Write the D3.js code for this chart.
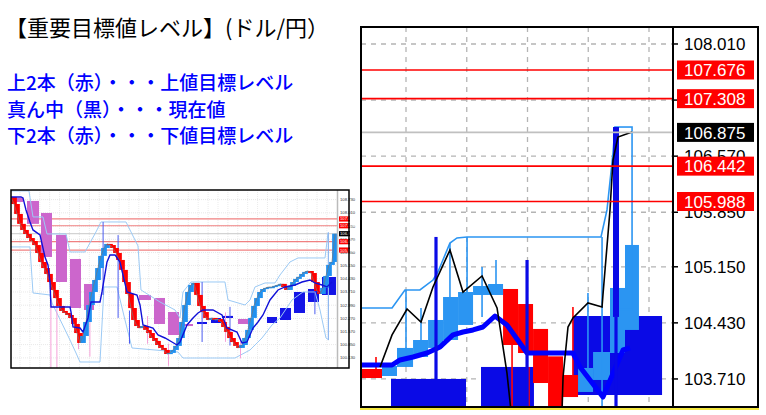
<!DOCTYPE html>
<html><head><meta charset="utf-8">
<script src="https://cdn.jsdelivr.net/npm/d3@7"></script>
<style>body{margin:0;background:#fff}svg{display:block}</style>
</head><body>
<svg id="c" width="766" height="415"></svg>
<script>
// ================= DATA =================
const titleText = "【重要目標値レベル】(ドル/円）";
const legendLines = ["上2本（赤）・・・上値目標レベル", "真ん中（黒）・・・現在値", "下2本（赤）・・・下値目標レベル"];

const targetLevels = [107.676, 107.308, 106.442, 105.988];
const currentPrice = 106.875;
const bigGridValues = [108.010, 107.290, 106.570, 105.850, 105.150, 104.430, 103.710];
const bigTickLabels = [108.010, 106.570, 105.850, 105.150, 104.430, 103.710];
const smallTicks = [108.730, 108.010, 107.290, 106.570, 105.850, 105.150, 104.430, 103.710, 102.990, 102.270, 101.570, 100.850, 100.130];

// ---- big (zoomed) chart ----
const bigGridTimes = [3.0, 7.05, 11.1, 15.15, 19.2];
const bigDarkBoxes = [[2.0, 7.0, 103.71, 103.0], [8.0, 11.53, 103.864, 103.0], [14.13, 20.07, 104.518, 103.504]];
const bigRedCandles = [[-0.2, 1.4, 103.838, 103.722], [9.47, 10.47, 104.865, 104.146], [10.47, 11.47, 104.672, 104.043],
  [11.47, 12.47, 104.352, 103.658], [12.47, 13.47, 104.0, 103.30], [13.27, 14.47, 103.761, 103.478]];
const bigBlueCandles = [[1.4, 2.4, 103.748, 103.877], [2.4, 3.47, 103.864, 104.108], [3.47, 4.47, 103.992, 104.210],
  [4.47, 5.47, 104.108, 104.467], [5.47, 6.47, 104.210, 104.762], [6.47, 7.47, 104.403, 104.826],
  [7.47, 8.47, 104.788, 104.903], [8.47, 9.47, 104.788, 104.929], [14.47, 15.47, 103.543, 103.851],
  [15.47, 16.6, 103.697, 104.056], [16.6, 17.6, 104.043, 104.878], [17.6, 18.53, 104.339, 105.430]];
const bigOutlineCandle = [16.93, 18.07, 106.944, 104.6];
const bigSpikeBody = [16.8, 17.2, 106.944, 104.506];
const bigDarkWicks = [[5.0, 105.533, 103.30], [11.07, 105.237, 103.30], [17.0, 104.506, 103.30]];
const bigLightWicks = [[3.0, 104.852, 103.864], [4.0, 104.621, 104.21], [5.93, 105.455, 104.762], [7.07, 105.533, 104.826],
  [8.07, 105.147, 104.506], [9.0, 105.237, 104.865], [15.13, 104.814, 103.825], [16.07, 105.533, 103.30]];
const bigRedWicks = [[1.0, 103.992, 103.838], [10.07, 104.21, 103.30], [11.2, 103.864, 103.30], [14.13, 104.634, 103.735]];
const bigPriceSeg1 = [[1.27, 103.864], [2.07, 104.275], [3.07, 104.608], [4.0, 104.441], [4.8, 104.891], [5.93, 105.366],
  [6.8, 104.826], [8.07, 105.032], [9.07, 104.621], [9.73, 103.787], [10.0, 103.30]];
const bigPriceSeg2 = [[13.4, 103.30], [13.47, 103.735], [13.8, 104.377], [14.13, 104.493], [15.13, 104.685], [16.07, 104.634],
  [16.13, 104.788], [16.6, 105.879], [16.8, 106.521], [17.13, 106.816], [18.07, 106.880]];
const bigMA = [[0, 103.889], [2.07, 103.889], [2.6, 103.954], [3.47, 103.992], [4.4, 104.043], [5.27, 104.12], [6.13, 104.275],
  [6.8, 104.313], [7.47, 104.339], [8.13, 104.377], [8.93, 104.518], [9.73, 104.403], [11.07, 104.043], [14.13, 104.043],
  [14.6, 103.864], [16.13, 103.478], [17.47, 104.082], [17.93, 104.108]];
const bigUpperBand = [[0, 104.621], [2.07, 104.621], [2.93, 104.852], [3.93, 104.852], [4.8, 104.98], [5.13, 105.083],
  [5.93, 105.455], [6.4, 105.52], [7.07, 105.533], [16.0, 105.533], [16.4, 105.88], [16.8, 106.611], [16.93, 106.944]];

// ---- small (overview) chart ----
const smallClose = [108.87, 108.49, 107.95, 107.41, 107.08, 106.86, 106.64, 106.48, 106.26, 105.83,
  105.34, 105.01, 104.69, 104.25, 103.82, 103.38, 102.95, 102.68, 102.57, 102.46,
  102.30, 101.97, 101.48, 100.94, 101.32, 102.08, 103.00, 103.71, 104.36, 105.01,
  105.67, 106.10, 106.32, 106.26, 106.10, 105.83, 105.45, 104.91, 104.25, 103.60,
  102.84, 102.19, 101.86, 101.75, 101.86, 101.65, 101.48, 101.21, 101.05, 100.83,
  100.67, 100.56, 100.34, 100.40, 100.56, 100.78, 101.21, 102.08, 103.00, 103.71,
  104.09, 104.20, 103.55, 102.95, 102.62, 102.30, 102.19, 102.30, 102.19, 102.24,
  102.08, 101.81, 101.54, 101.21, 100.99, 100.78, 100.67, 100.83, 101.21, 101.65,
  102.30, 102.95, 103.38, 103.71, 103.87, 103.93, 103.98, 103.98, 104.04, 104.09,
  104.15, 103.98, 103.82, 104.04, 104.25, 104.42, 104.53, 104.69, 104.80, 104.85,
  104.74, 104.25, 103.76, 103.60, 103.93, 104.58, 105.18, 105.34, 106.875];
const smallMagentaBoxes = [[0, 4, 108.82, 108.60], [5.33, 9.33, 108.656, 107.41], [10, 13.67, 108.003, 105.612],
  [15, 18.67, 106.808, 104.253], [19.67, 23.33, 105.503, 102.84], [24.33, 27.67, 104.145, 102.732],
  [42.67, 46.67, 103.547, 103.275], [47.67, 51.33, 103.384, 101.971], [52.33, 56, 102.623, 101.373],
  [56.33, 60.67, 101.97, 101.86], [75.67, 79.33, 102.243, 101.971]];
const smallDarkBoxes = [[62, 65.33, 102.08, 101.97], [66.67, 70, 102.297, 102.025], [70.33, 74, 102.41, 102.297],
  [85.33, 88.67, 102.351, 102.025], [89.67, 93.33, 102.84, 102.188], [94.33, 98, 103.71, 102.569],
  [99, 102.67, 103.873, 103.167], [103.67, 108.33, 104.525, 103.547]];
const smallMA = [[0, 108.873], [3.33, 108.873], [4, 108.819], [5, 108.166], [6.33, 107.514], [7.33, 107.08], [9.67, 106.808],
  [11.33, 105.612], [12.33, 105.177], [13, 104.253], [13.33, 102.895], [19.67, 102.895], [20, 102.623], [20.67, 101.808],
  [23, 101.753], [24, 101.536], [25.67, 102.297], [26.67, 103.167], [29.67, 103.167], [30.33, 103.71], [32, 105.34],
  [33, 105.721], [34.67, 105.721], [36.33, 105.34], [37.33, 104.634], [38.67, 103.71], [42, 103.547], [43, 103.003],
  [44, 101.917], [47.33, 101.753], [49, 101.373], [51.33, 101.21], [53.67, 100.993], [55.33, 100.83], [56.33, 100.993],
  [58.67, 101.917], [60.67, 102.297], [62.33, 102.569], [64, 102.732], [67.33, 102.732], [70.33, 102.46], [72, 101.753],
  [75.33, 101.536], [77, 100.938], [78.67, 100.993], [80.67, 101.753], [82.33, 102.08], [84, 102.46], [86.33, 103.275],
  [89, 103.819], [91.33, 103.982], [94.67, 104.09], [97, 104.253], [99.67, 104.362], [101.33, 104.199], [103.67, 104.09],
  [105.33, 103.982], [107, 104.253]];
const smallUpperBand = [[0, 109.199], [6, 109.199], [7.33, 107.786], [10.67, 107.786], [12, 106.862], [18.33, 106.862],
  [19.67, 105.884], [24.67, 105.884], [28.33, 106.971], [30, 107.514], [38.33, 107.514], [40, 106.971], [42.33, 106.21],
  [43.33, 103.819], [49.67, 103.167], [54.67, 102.732], [56.33, 102.297], [57.33, 103.71], [58.67, 103.982], [60, 104.253],
  [71.33, 104.253], [72.33, 103.275], [78, 103.003], [79.67, 103.275], [81.33, 103.982], [84.67, 104.199], [88, 104.199],
  [89.67, 104.634], [93, 105.34], [95.67, 105.558], [104.67, 105.558], [105.67, 106.917]];
const smallLowerBand = [[0, 106.156], [6.33, 106.156], [7.33, 103.656], [13, 103.547], [13.67, 103.112], [19.67, 101.101],
  [21.67, 100.395], [23, 99.906], [29.67, 99.906], [31, 103.982], [35.33, 103.982], [38, 102.188], [40.33, 100.667],
  [55.67, 100.449], [57.33, 100.123], [74.67, 100.123], [79.67, 100.558], [83.67, 101.21], [87, 101.917], [89.67, 102.297],
  [93.67, 103.275], [97.33, 103.71], [101.33, 103.71], [103, 102.732], [105, 101.21], [106, 101.101]];
const smallPinkWicks = [[13.3, 103.275, 99.58], [15.3, 103.0, 99.58], [22.5, 102.0, 100.6], [26.3, 102.3, 100.2],
  [45.5, 102.4, 100.9], [52.5, 100.9, 99.7], [71.5, 102.6, 101.0], [76.5, 101.2, 100.1]];
const smallBlueWicks = [[30.7, 107.514, 103.547], [35.7, 106.8, 102.3], [39.5, 102.7, 100.9], [63.7, 104.253, 100.993],
  [73, 102.9, 100.8], [101.3, 104.2, 102.5]];
const smallSpikeWick = [105.8, 106.95, 101.1];

// ================= DRAW =================
const svg = d3.select("#c");
svg.append("rect").attr("width", 766).attr("height", 415).attr("fill", "#fff");

// ---- texts ----
svg.append("text").attr("x", 5).attr("y", 36).text(titleText)
  .attr("font-family", "'Noto Sans CJK JP'").attr("font-size", 22).attr("fill", "#000");
legendLines.forEach((t, i) => {
  svg.append("text").attr("x", 7).attr("y", 90 + i * 26.5).text(t)
    .attr("font-family", "'Noto Sans CJK JP'").attr("font-size", 19).attr("font-weight", 500).attr("fill", "#0000ff");
});

const line = (xs, ys) => d3.line().x(d => xs(d[0])).y(d => ys(d[1]));

// ================= SMALL CHART =================
(function () {
  const L = 11, R = 337, T = 190, B = 368, RR = 349;
  const xS = d3.scaleLinear().domain([0, 108.67]).range([L, R]);
  const yS = d3.scaleLinear().domain([99.58, 109.25]).range([B, T]);
  const g = svg.append("g");
  g.append("clipPath").attr("id", "clipS").append("rect").attr("x", L).attr("y", T).attr("width", R - L).attr("height", B - T);
  const p = g.append("g").attr("clip-path", "url(#clipS)");
  // grid
  p.selectAll(".gh").data(smallTicks).join("line").attr("x1", L).attr("x2", R)
    .attr("y1", d => yS(d)).attr("y2", d => yS(d)).attr("stroke", "#e2e2e2").attr("stroke-width", 0.8).attr("stroke-dasharray", "1,1");
  p.selectAll(".gv").data(d3.range(3, 108, 3.3)).join("line").attr("y1", T).attr("y2", B)
    .attr("x1", d => xS(d)).attr("x2", d => xS(d)).attr("stroke", "#e6e6e6").attr("stroke-width", 0.8).attr("stroke-dasharray", "1,1");
  // level lines
  p.selectAll(".lv").data(targetLevels).join("line").attr("x1", L).attr("x2", R)
    .attr("y1", d => yS(d)).attr("y2", d => yS(d)).attr("stroke", "#f08080").attr("stroke-width", 1.2);
  p.append("line").attr("x1", L).attr("x2", R).attr("y1", yS(currentPrice)).attr("y2", yS(currentPrice)).attr("stroke", "#c8c8c8").attr("stroke-width", 1);
  // higher timeframe boxes
  p.selectAll(".mb").data(smallMagentaBoxes).join("rect").attr("x", d => xS(d[0])).attr("width", d => xS(d[1]) - xS(d[0]))
    .attr("y", d => yS(d[2])).attr("height", d => Math.max(1.5, yS(d[3]) - yS(d[2]))).attr("fill", "#cc66cc");
  p.selectAll(".db").data(smallDarkBoxes).join("rect").attr("x", d => xS(d[0])).attr("width", d => xS(d[1]) - xS(d[0]))
    .attr("y", d => yS(d[2])).attr("height", d => Math.max(1.5, yS(d[3]) - yS(d[2]))).attr("fill", "#1414e6");
  // bands
  p.append("path").datum(smallUpperBand).attr("d", line(xS, yS)).attr("fill", "none").attr("stroke", "#9ccaf5").attr("stroke-width", 1);
  p.append("path").datum(smallLowerBand).attr("d", line(xS, yS)).attr("fill", "none").attr("stroke", "#9ccaf5").attr("stroke-width", 1);
  // wicks
  p.selectAll(".pw").data(smallPinkWicks).join("line").attr("x1", d => xS(d[0])).attr("x2", d => xS(d[0]))
    .attr("y1", d => yS(d[1])).attr("y2", d => yS(d[2])).attr("stroke", "#f6a0d8").attr("stroke-width", 1);
  p.selectAll(".bw").data(smallBlueWicks).join("line").attr("x1", d => xS(d[0])).attr("x2", d => xS(d[0]))
    .attr("y1", d => yS(d[1])).attr("y2", d => yS(d[2])).attr("stroke", "#4b5cf0").attr("stroke-width", 1);
  p.append("line").attr("x1", xS(smallSpikeWick[0])).attr("x2", xS(smallSpikeWick[0]))
    .attr("y1", yS(smallSpikeWick[1])).attr("y2", yS(smallSpikeWick[2])).attr("stroke", "#8fb8f0").attr("stroke-width", 1.2);
  // candles (wider overlapping bodies, like the reference's chunky steps)
  const bodies = smallClose.slice(1).map((c, i) => ({ t: i + 1, o: smallClose[i], c }));
  const bw = (xS(1) - xS(0)) * 1.9;
  p.selectAll(".cb").data(bodies).join("rect").attr("x", d => xS(d.t) - bw / 2).attr("width", bw)
    .attr("y", d => yS(Math.max(d.o, d.c))).attr("height", d => Math.max(1.2, Math.abs(yS(d.o) - yS(d.c))))
    .attr("fill", d => d.c < d.o ? "#ff0000" : "#2090f0");
  // price line
  p.append("path").datum(smallClose.map((v, i) => [i, v])).attr("d", line(xS, yS)).attr("fill", "none").attr("stroke", "#777").attr("stroke-width", 0.7);
  // MA
  p.append("path").datum(smallMA).attr("d", line(xS, yS)).attr("fill", "none").attr("stroke", "#1010d8").attr("stroke-width", 1.4);
  // axis area
  g.append("line").attr("x1", R + 0.5).attr("x2", R + 0.5).attr("y1", T).attr("y2", B).attr("stroke", "#bbb").attr("stroke-width", 1.5);
  g.selectAll(".st").data(smallTicks).join("text").attr("x", R + 3).attr("y", d => yS(d)).attr("dy", "0.35em")
    .text(d => d.toFixed(3)).attr("font-family", "Liberation Sans, Arial").attr("font-size", 4.2).attr("fill", "#333");
  const lab = targetLevels.map(v => ({ v, c: "#ff0000" })).concat([{ v: currentPrice, c: "#000" }]);
  g.selectAll(".sl").data(lab).join("rect").attr("x", R + 2).attr("width", 11).attr("y", d => yS(d.v) - 2.6).attr("height", 5.2).attr("fill", d => d.c);
  g.selectAll(".slt").data(lab).join("text").attr("x", R + 3).attr("y", d => yS(d.v)).attr("dy", "0.35em")
    .text(d => d.v.toFixed(3)).attr("font-family", "Liberation Sans, Arial").attr("font-size", 4.2).attr("fill", "#fff");
  g.append("rect").attr("x", L).attr("y", T).attr("width", RR - L).attr("height", B - T).attr("fill", "none").attr("stroke", "#000").attr("stroke-width", 1.5);
})();

// ================= BIG CHART =================
(function () {
  const L = 361, R = 673, T = 27, B = 407, RR = 758;
  const xB = d3.scaleLinear().domain([0, 20.8]).range([L, R]);
  const yB = d3.scaleLinear().domain([103.35, 108.228]).range([B, T]);
  const g = svg.append("g");
  g.append("clipPath").attr("id", "clipB").append("rect").attr("x", L).attr("y", T).attr("width", R - L).attr("height", B - T);
  const p = g.append("g").attr("clip-path", "url(#clipB)");
  // grid
  p.selectAll(".gh").data(bigGridValues).join("line").attr("x1", L).attr("x2", R)
    .attr("y1", d => yB(d)).attr("y2", d => yB(d)).attr("stroke", "#b4b4b4").attr("stroke-width", 1.3).attr("stroke-dasharray", "5,5");
  p.selectAll(".gv").data(bigGridTimes).join("line").attr("y1", T).attr("y2", B)
    .attr("x1", d => xB(d)).attr("x2", d => xB(d)).attr("stroke", "#b4b4b4").attr("stroke-width", 1.3).attr("stroke-dasharray", "5,5");
  // dark boxes
  p.selectAll(".db").data(bigDarkBoxes).join("rect").attr("x", d => xB(d[0])).attr("width", d => xB(d[1]) - xB(d[0]))
    .attr("y", d => yB(d[2])).attr("height", d => yB(d[3]) - yB(d[2])).attr("fill", "#0a0ae6");
  // red candles
  p.selectAll(".rc").data(bigRedCandles).join("rect").attr("x", d => xB(d[0])).attr("width", d => xB(d[1]) - xB(d[0]))
    .attr("y", d => yB(d[2])).attr("height", d => yB(d[3]) - yB(d[2])).attr("fill", "#ff0000");
  // light blue candles
  p.selectAll(".bc").data(bigBlueCandles).join("rect").attr("x", d => xB(d[0])).attr("width", d => xB(d[1]) - xB(d[0]))
    .attr("y", d => yB(d[3])).attr("height", d => yB(d[2]) - yB(d[3])).attr("fill", "#2b95f2");
  // wicks
  p.selectAll(".lw").data(bigLightWicks).join("line").attr("x1", d => xB(d[0])).attr("x2", d => xB(d[0]))
    .attr("y1", d => yB(d[1])).attr("y2", d => yB(d[2])).attr("stroke", "#2b95f2").attr("stroke-width", 1.6);
  p.selectAll(".rw").data(bigRedWicks).join("line").attr("x1", d => xB(d[0])).attr("x2", d => xB(d[0]))
    .attr("y1", d => yB(d[1])).attr("y2", d => yB(d[2])).attr("stroke", "#ff0000").attr("stroke-width", 1.6);
  // upper band
  p.append("path").datum(bigUpperBand).attr("d", line(xB, yB)).attr("fill", "none").attr("stroke", "#2b95f2").attr("stroke-width", 1.6);
  // outline candle
  p.append("rect").attr("x", xB(bigOutlineCandle[0])).attr("width", xB(bigOutlineCandle[1]) - xB(bigOutlineCandle[0]))
    .attr("y", yB(bigOutlineCandle[2])).attr("height", yB(bigOutlineCandle[3]) - yB(bigOutlineCandle[2]))
    .attr("fill", "none").attr("stroke", "#2b95f2").attr("stroke-width", 1.6);
  // MA thick
  p.append("path").datum(bigMA).attr("d", line(xB, yB)).attr("fill", "none").attr("stroke", "#0000ff").attr("stroke-width", 5).attr("stroke-linejoin", "round");
  // dark wicks + spike
  p.selectAll(".dw").data(bigDarkWicks).join("line").attr("x1", d => xB(d[0])).attr("x2", d => xB(d[0]))
    .attr("y1", d => yB(d[1])).attr("y2", d => yB(d[2])).attr("stroke", "#0a0ae6").attr("stroke-width", 3.2);
  p.append("rect").attr("x", xB(bigSpikeBody[0])).attr("width", xB(bigSpikeBody[1]) - xB(bigSpikeBody[0]))
    .attr("y", yB(bigSpikeBody[2])).attr("height", yB(bigSpikeBody[3]) - yB(bigSpikeBody[2])).attr("fill", "#0a0ae6");
  // price line
  [bigPriceSeg1, bigPriceSeg2].forEach(s => p.append("path").datum(s).attr("d", line(xB, yB)).attr("fill", "none")
    .attr("stroke", "#000").attr("stroke-width", 1.6));
  // level lines
  p.selectAll(".lv").data(targetLevels).join("line").attr("x1", L).attr("x2", R)
    .attr("y1", d => yB(d)).attr("y2", d => yB(d)).attr("stroke", "#ff0000").attr("stroke-width", 1.6);
  p.append("line").attr("x1", L).attr("x2", R).attr("y1", yB(currentPrice)).attr("y2", yB(currentPrice)).attr("stroke", "#c0c0c0").attr("stroke-width", 1.6);
  // axis
  g.append("line").attr("x1", R).attr("x2", R).attr("y1", T).attr("y2", B).attr("stroke", "#000").attr("stroke-width", 2);
  g.selectAll(".tk").data(bigGridValues).join("line").attr("x1", R).attr("x2", R + 5)
    .attr("y1", d => yB(d)).attr("y2", d => yB(d)).attr("stroke", "#000").attr("stroke-width", 1.5);
  g.selectAll(".tl").data(bigTickLabels).join("text").attr("x", R + 11).attr("y", d => yB(d)).attr("dy", "0.36em")
    .text(d => d.toFixed(3)).attr("font-family", "Liberation Sans, Arial").attr("font-size", 17).attr("fill", "#000");
  const lab = targetLevels.map(v => ({ v, c: "#ff0000" })).concat([{ v: currentPrice, c: "#000" }]);
  g.selectAll(".lb").data(lab).join("rect").attr("x", R + 4).attr("width", 77).attr("y", d => yB(d.v) - 9.5).attr("height", 19).attr("fill", d => d.c);
  g.selectAll(".lbt").data(lab).join("text").attr("x", R + 11).attr("y", d => yB(d.v)).attr("dy", "0.36em")
    .text(d => d.v.toFixed(3)).attr("font-family", "Liberation Sans, Arial").attr("font-size", 17).attr("fill", "#fff");
  // frame
  g.append("rect").attr("x", L).attr("y", T).attr("width", RR - L).attr("height", B - T).attr("fill", "none").attr("stroke", "#000").attr("stroke-width", 2);
  g.append("line").attr("x1", L - 1).attr("x2", RR + 1).attr("y1", B + 2).attr("y2", B + 2).attr("stroke", "#f0e000").attr("stroke-width", 1.5);
})();
</script>
</body></html>
